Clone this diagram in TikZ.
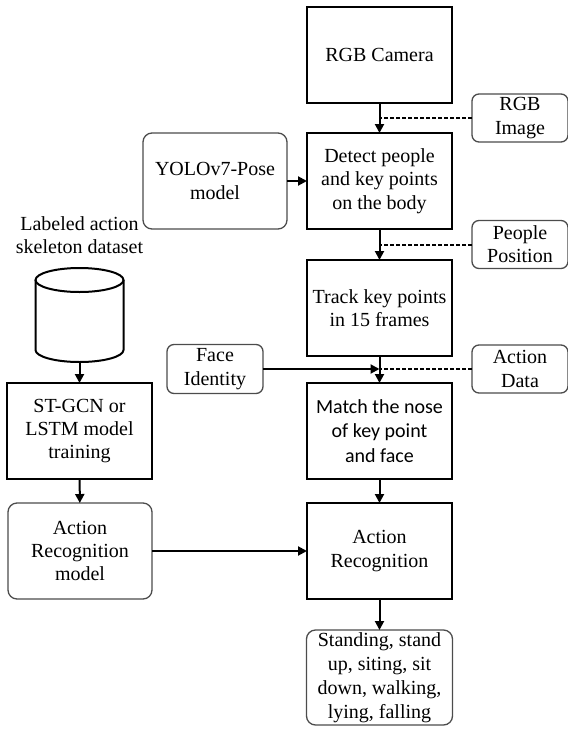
\documentclass[tikz,border=0pt]{standalone}
\usepackage{fontspec}
\setmainfont{Liberation Serif}
\newfontfamily\calibri{Carlito}
\usetikzlibrary{positioning}
\usetikzlibrary{arrows.meta}
\tikzset{
  flow path/.style = {
    draw = black,
    line width = 2pt
  },
  % solid connector with a head at its end
  arr/.style = {
    flow path,
    -{Triangle[length=9pt,width=9pt]}
  },
  % dashed connector with no head
  dash line/.style = {
    flow path,
    dash pattern = on 4pt off 2pt
  },
  % outline of the dataset drum
  drum line/.style = {
    draw = black,
    line width = 2pt
  }
}
\tikzset{
  flow node/.style = {
    align = center,
    inner sep = 0,
    outer sep = 0,
    font = \fontsize{20}{23.3}\selectfont
  },
  % processing step
  proc/.style = {
    flow node,
    draw = black,
    line width = 2.2pt,
    rectangle,
    minimum width = 145pt,
    minimum height = 96pt
  },
  % model or result box
  model/.style = {
    flow node,
    draw = black!70,
    line width = 1.3pt,
    rounded corners = 9pt,
    minimum width = 144pt,
    minimum height = 96pt
  },
  % small data tag
  tag/.style = {
    model,
    rounded corners = 7pt,
    minimum width = 96pt,
    minimum height = 48pt
  },
  % room taken by the dataset drum
  store/.style = {
    flow node,
    minimum width = 88pt,
    minimum height = 94pt
  },
  node distance = 30pt
}

\begin{document}
\begin{tikzpicture}[x=1pt, y=-1pt]
    \useasboundingbox (0,0) rectangle (568,729);

    % main column
    \node[proc] (camera) at (379.5,55) {RGB Camera};
    \node[proc] (detect) [below=30pt of camera] {Detect people\\and key points\\on the body};
    \node[proc] (track) [below=31pt of detect] {Track key points\\in 15 frames};
    \node[proc, font=\calibri\fontsize{20}{24.5}\selectfont] (match) [below=27pt of track] {Match the nose\\of key point\\and face};
    \node[proc] (recog) [below=24pt of match] {Action\\Recognition};
    \node[model, minimum width=146pt, minimum height=95pt, font=\fontsize{20}{24}\selectfont] (result) [below=31pt of recog] {Standing, stand\\up, siting, sit\\down, walking,\\lying, falling};

    % joints on the main arrows
    \coordinate [below=15pt of camera] (cam-det);
    \coordinate [below=15.5pt of detect] (det-trk);
    \coordinate [below=13pt of track] (trk-mat);

    % data tags on the right
    \node[tag] (rgb-img) [right=92.5pt of cam-det] {RGB\\Image};
    \node[tag] (ppl-pos) [right=92.5pt of det-trk] {People\\Position};
    \node[tag] (act-data) [right=92.5pt of trk-mat] {Action\\Data};

    % inputs from the left
    \node[model] (yolo) [left=20pt of detect] {YOLOv7-Pose\\model};
    \node[tag, minimum height=49pt] (face) [left=116.5pt of trk-mat] {Face\\Identity};

    % training column
    \node[proc] (train) [left=155pt of match] {ST-GCN or\\LSTM model\\training};
    \node[model] (ar-model) [left=155pt of recog] {Action\\Recognition\\model};
    \node[store] (dataset) [above=21pt of train] {};
    \node[flow node] (dataset-lbl) [above=14pt of dataset] {Labeled action\\skeleton dataset};

    % the drum itself
    \draw[drum line] ([yshift=-12pt]dataset.north) ellipse [x radius=44pt, y radius=12pt];
    \draw[drum line] ([yshift=-12pt]dataset.north west) -- ([yshift=12pt]dataset.south west)
      arc [start angle=180, end angle=360, x radius=44pt, y radius=12pt]
      -- ([yshift=-12pt]dataset.north east);

    \draw[arr] (camera) -- (detect);
    \draw[arr] (detect) -- (track);
    \draw[arr] (track) -- (match);
    \draw[arr] (match) -- (recog);
    \draw[arr] (recog) -- (result);

    \draw[dash line] (rgb-img) -- (cam-det);
    \draw[dash line] (ppl-pos) -- (det-trk);
    \draw[dash line] (act-data) -- (trk-mat);

    \draw[arr] (yolo) -- (detect);
    \draw[arr] (face) -- (trk-mat);

    \draw[arr] (dataset) -- (train);
    \draw[arr] (train) -- (ar-model);
    \draw[arr] (ar-model) -- (recog);
\end{tikzpicture}
\end{document}
